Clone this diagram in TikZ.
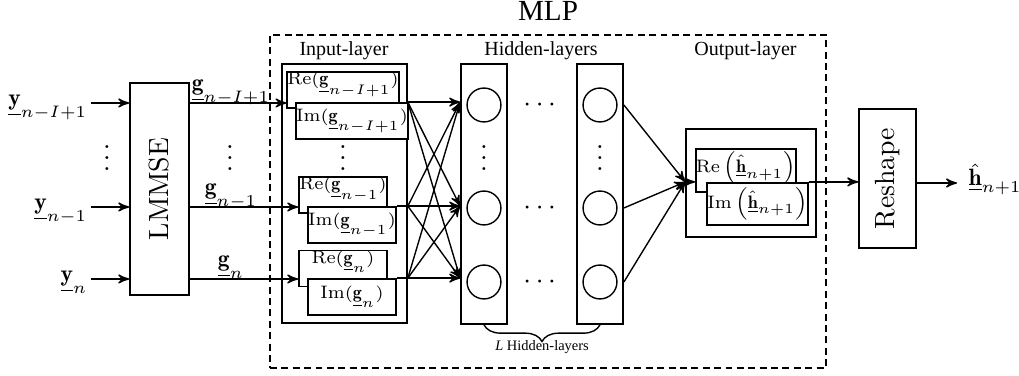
\documentclass[tikz,border=0pt]{standalone}
\usepackage{amsmath,amssymb}
\usepackage{graphicx}
\usepackage{fontspec}
\newfontfamily\timesfont{Liberation Serif}
\usetikzlibrary{arrows,calc,decorations.pathreplacing}

\begin{document}
\begin{tikzpicture}[x=0.36pt, y=-0.36pt, >=stealth', line width=0.5pt,
    box/.style={draw, line width=0.6pt, inner sep=0pt},
    small/.style={font=\fontsize{6.5}{7}\selectfont},
    sig/.style={inner sep=0pt, font=\fontsize{8.5}{10}\selectfont},
    rebox/.style={box, small, fill=white, minimum width=31.7pt, text height=4.6pt, text depth=8.4pt},
    imbox/.style={box, small, fill=white, minimum width=31.7pt, minimum height=13pt},
    reoutbox/.style={box, small, fill=white, minimum width=32.6pt, text height=8.3pt, text depth=7pt},
    imoutbox/.style={box, small, fill=white, minimum width=32.6pt, minimum height=15.3pt},
    neuron/.style={draw, circle, minimum size=12.2pt, inner sep=0pt},
    layertitle/.style={anchor=base, font=\timesfont\fontsize{7.2}{8}\selectfont}]
    \useasboundingbox (0,0) rectangle (1019,376);

    % MLP frame
    \node[draw, dash pattern=on 2.5pt off 1.6pt, minimum width=200.2pt, minimum height=119.9pt] (mlp) at (548,201.5) {};
    \node[anchor=base, font=\timesfont\fontsize{10.5}{12}\selectfont] (mlptitle) at (548,21) {MLP};

    % LMMSE
    \node[box, minimum width=21.2pt, minimum height=76.3pt] (lmmse) at (159.5,189) {\rotatebox{90}{LMMSE}};

    % input layer
    \node[box, minimum width=45pt, minimum height=93.2pt] (inl) at (344.5,193.5) {};
    \node[layertitle] (inltitle) at (344,56) {Input-layer};
    \node[rebox] (re1) at (343,90) {$\mathrm{Re}(\underline{\mathbf{g}}_{n-I+1})$};
    \node[imbox] (im1) at (352,121) {$\mathrm{Im}(\underline{\mathbf{g}}_{n-I+1})$};
    \node[rebox] (re2) at (343,195) {$\mathrm{Re}(\underline{\mathbf{g}}_{n-1})$};
    \node[imbox] (im2) at (352,225) {$\mathrm{Im}(\underline{\mathbf{g}}_{n-1})$};
    \node[rebox] (re3) at (343,268.5) {$\mathrm{Re}(\underline{\mathbf{g}}_{n})$};
    \node[imbox] (im3) at (352,297) {$\mathrm{Im}(\underline{\mathbf{g}}_{n})$};

    \foreach \i/\yy/\lab in {1/103/{n-I+1}, 2/207/{n-1}, 3/279/n} {
        \coordinate (in\i) at (91,\yy);
        \node[sig, anchor=base east] (y\i) at (88,\yy+3) {$\underline{\mathbf{y}}_{\lab}$};
        \node[sig, anchor=base] (g\i) at (231,\yy-12) {$\underline{\mathbf{g}}_{\lab}$};
        \draw[->] (in\i) -- (in\i -| lmmse.west);
        \draw[->] (lmmse.east |- in\i) -- (re\i.west |- in\i);
    }

    \node (vd1) at (107,150) {$\vdots$};
    \node (vd2) at (230,150) {$\vdots$};
    \node (vd3) at (343,150) {$\vdots$};

    % hidden layers
    \node[box, minimum width=16.6pt, minimum height=93.6pt] (hid1) at (484,194) {};
    \node[box, minimum width=16.6pt, minimum height=93.6pt] (hid2) at (600,194) {};
    \node[layertitle] (hidtitle) at (541,56) {Hidden-layers};
    \foreach \y [count=\k] in {105,208,282} {
        \node[neuron] (a\k) at (484,\y) {};
        \node[neuron] (b\k) at (600,\y) {};
        \node (hd\k) at (542,\y) {$\cdots$};
    }
    \node (vd4) at (484,150) {$\vdots$};
    \node (vd5) at (600,150) {$\vdots$};

    \foreach \i in {1,2,3} {
        \draw (im\i.north east) -- (inl.east |- im\i.north);
        \foreach \j in {1,2,3}
            \draw[->] (inl.east |- im\i.north) -- (hid1.west |- im\j.north);
    }

    \draw[decorate, decoration={brace, mirror, amplitude=6pt}] (hid1.south) -- (hid2.south);
    \node[anchor=base, font=\timesfont\fontsize{5.2}{6}\selectfont] (ltitle) at (542,351) {\textit{L} Hidden-layers};

    % output layer
    \node[box, minimum width=46.8pt, minimum height=38.9pt] (outl) at (751,183) {};
    \node[layertitle] (outtitle) at (745.5,56) {Output-layer};
    \node[reoutbox] (reo) at (746,170.5) {$\operatorname{Re}\left(\hat{\underline{\mathbf{h}}}_{n+1}\right)$};
    \node[imoutbox] (imo) at (757.5,204) {$\operatorname{Im}\left(\hat{\underline{\mathbf{h}}}_{n+1}\right)$};

    \foreach \k in {1,2,3}
        \draw[->] (hid2.east |- b\k) -- (outl.west |- imo.north);
    \draw[->] (outl.west |- imo.north) -- (reo.west |- imo.north);

    % reshape
    \node[box, minimum width=20.5pt, minimum height=50pt] (reshape) at (887.5,178.5) {\rotatebox{90}{Reshape}};
    \draw[->] (imo.north east) -- (reshape.west |- imo.north);
    \coordinate (hout) at (957,183);
    \draw[->] (reshape.east |- hout) -- (hout);
    \node[sig, anchor=base west] (hlab) at (968,186) {$\hat{\underline{\mathbf{h}}}_{n+1}$};
\end{tikzpicture}
\end{document}
